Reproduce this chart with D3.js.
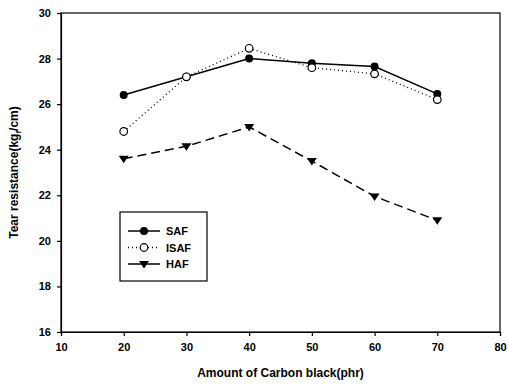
<!DOCTYPE html>
<html>
<head>
<meta charset="utf-8">
<script src="https://cdn.jsdelivr.net/npm/d3@7"></script>
<style>
  html, body { margin: 0; padding: 0; background: #fff; }
  text { font-family: "Liberation Sans", Arial, sans-serif; font-weight: bold; fill: #000; }
</style>
</head>
<body>
<svg id="chart" width="508" height="387"></svg>
<script>
// Tear resistance vs carbon black loading, three blacks.
const loadings = [20, 30, 40, 50, 60, 70];
const safValues = [26.4, 27.2, 28.0, 27.8, 27.65, 26.45];
const isafValues = [24.8, 27.2, 28.45, 27.6, 27.33, 26.2];
const hafValues = [23.6, 24.15, 25.0, 23.5, 21.95, 20.9];
const xTicks = [10, 20, 30, 40, 50, 60, 70, 80];
const yTicks = [16, 18, 20, 22, 24, 26, 28, 30];

const series = [
  { name: 'SAF', values: safValues, dash: null, marker: 'dot' },
  { name: 'ISAF', values: isafValues, dash: '1,3', marker: 'ring' },
  { name: 'HAF', values: hafValues, dash: '9,5', marker: 'tri' },
];

const svg = d3.select('#chart');
// plot box (note: `top` clashes with window.top, hence the prefix)
const plotL = 61, plotR = 500, plotT = 13, plotB = 332;

const x = d3.scaleLinear().domain([10, 80]).range([plotL, plotR]);
const y = d3.scaleLinear().domain([16, 30]).range([plotB, plotT]);

// frame: axes on left/bottom, plus top and right border lines
svg.append('rect')
  .attr('x', plotL).attr('y', plotT)
  .attr('width', plotR - plotL).attr('height', plotB - plotT)
  .attr('fill', 'none').attr('stroke', '#000').attr('stroke-width', 1.2);

const xAxis = svg.append('g')
  .attr('transform', `translate(0,${plotB})`)
  .call(d3.axisBottom(x).tickValues(xTicks).tickSize(4).tickPadding(7).tickFormat(d3.format('d')));
const yAxis = svg.append('g')
  .attr('transform', `translate(${plotL},0)`)
  .call(d3.axisLeft(y).tickValues(yTicks).tickSize(4).tickPadding(6).tickFormat(d3.format('d')));

for (const ax of [xAxis, yAxis]) {
  ax.select('.domain').attr('stroke', '#000').attr('stroke-width', 1.2);
  ax.selectAll('.tick line').attr('stroke', '#000').attr('stroke-width', 1.2);
  ax.selectAll('.tick text')
    .attr('font-size', 11).attr('font-weight', 'bold')
    .attr('font-family', '"Liberation Sans", Arial, sans-serif').attr('fill', '#000');
}

svg.append('text')
  .attr('x', (plotL + plotR) / 2).attr('y', 377)
  .attr('text-anchor', 'middle').attr('font-size', 12)
  .text('Amount of Carbon black(phr)');

const yt = svg.append('text')
  .attr('transform', `translate(18,${(plotT + plotB) / 2}) rotate(-90)`)
  .attr('text-anchor', 'middle').attr('font-size', 12);
yt.append('tspan').text('Tear resistance(kg');
yt.append('tspan').attr('font-size', 8).attr('dy', 3).text('f');
yt.append('tspan').attr('dy', -3).text('/cm)');

function drawMarker(g, kind, cx, cy) {
  if (kind === 'dot') {
    g.append('circle').attr('cx', cx).attr('cy', cy).attr('r', 4).attr('fill', '#000');
  } else if (kind === 'ring') {
    g.append('circle').attr('cx', cx).attr('cy', cy).attr('r', 3.8)
      .attr('fill', '#fff').attr('stroke', '#000').attr('stroke-width', 1.2);
  } else {
    const r = 5;
    g.append('path')
      .attr('d', `M${cx - r},${cy - r * 0.6}L${cx + r},${cy - r * 0.6}L${cx},${cy + r * 0.9}Z`)
      .attr('fill', '#000');
  }
}

const line = d3.line().x(d => x(d[0])).y(d => y(d[1]));
const plot = svg.append('g');
for (const s of series) {
  const pts = loadings.map((l, i) => [l, s.values[i]]);
  plot.append('path')
    .datum(pts)
    .attr('d', line)
    .attr('fill', 'none')
    .attr('stroke', '#000')
    .attr('stroke-width', s.dash === '1,3' ? 1.3 : 1.5)
    .attr('stroke-dasharray', s.dash);
  for (const p of pts) drawMarker(plot, s.marker, x(p[0]), y(p[1]));
}

// legend
const lg = svg.append('g');
lg.append('rect')
  .attr('x', 120).attr('y', 212).attr('width', 87).attr('height', 69)
  .attr('fill', '#fff').attr('stroke', '#000').attr('stroke-width', 1.2);
series.forEach((s, i) => {
  const ly = 231 + i * 16.5;
  lg.append('line')
    .attr('x1', 128).attr('x2', 160).attr('y1', ly).attr('y2', ly)
    .attr('stroke', '#000').attr('stroke-width', 1.5)
    .attr('stroke-dasharray', s.dash === '1,3' ? '1,3' : null);
  drawMarker(lg, s.marker, 144, ly);
  lg.append('text')
    .attr('x', 166).attr('y', ly + 4)
    .attr('font-size', 11)
    .text(s.name);
});
</script>
</body>
</html>
